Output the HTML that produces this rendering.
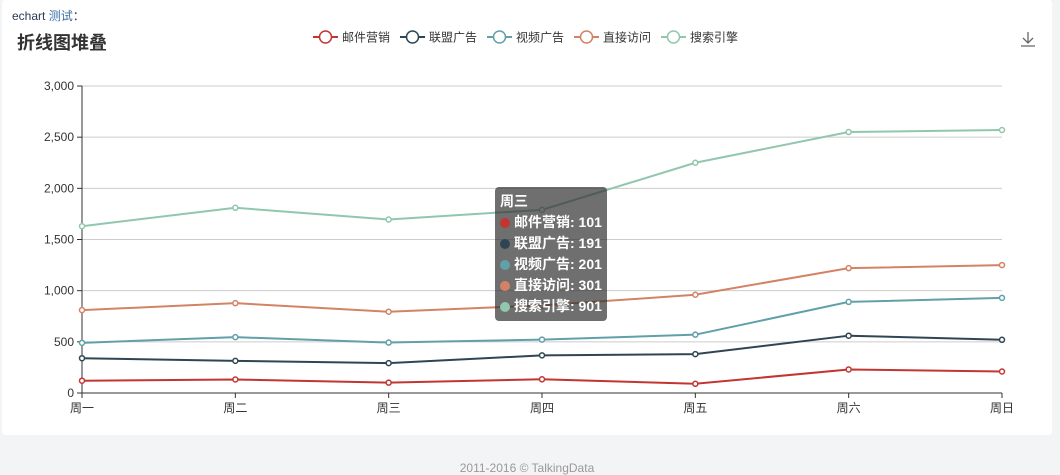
<!DOCTYPE html>
<html><head><meta charset="utf-8">
<style>
body{margin:0;width:1060px;height:474px;background:#f3f4f6;font-family:"Liberation Sans","Noto Sans CJK SC",sans-serif;position:relative;overflow:hidden}
#card{position:absolute;left:2px;top:0;width:1050px;height:435px;background:#fff;border-radius:3px}
#sub{position:absolute;left:12px;top:7px;font-size:12px;color:#2b3a55}
#sub span{color:#3a6ea5}
#title{position:absolute;left:17px;top:29px;font-size:18px;font-weight:bold;color:#333}
#foot{position:absolute;left:17px;width:1020px;top:461px;text-align:center;font-size:12px;color:#999}
#tip{position:absolute;left:495px;top:187px;width:112px;height:134px;background:rgba(50,50,50,0.7);border-radius:4px;color:#fff;font-size:14px;font-weight:bold;line-height:21px;padding:4px 5px;box-sizing:border-box;white-space:nowrap}
#tip i{display:inline-block;width:10px;height:10px;border-radius:5px;margin-right:4px;vertical-align:-1px}
</style></head><body>
<div id="card"></div>
<div id="sub">echart <span>测试</span>：</div>
<div id="title">折线图堆叠</div>
<svg id="chart" width="1060" height="474" style="position:absolute;left:0;top:0"></svg>
<div id="tip">
<div>周三</div>
<div><i style="background:#c23531"></i>邮件营销: 101</div>
<div><i style="background:#2f4554"></i>联盟广告: 191</div>
<div><i style="background:#61a0a8"></i>视频广告: 201</div>
<div><i style="background:#d48265"></i>直接访问: 301</div>
<div><i style="background:#91c7ae"></i>搜索引擎: 901</div>
</div>
<div id="foot">2011-2016 © TalkingData</div>
<script>
const categories=["周一","周二","周三","周四","周五","周六","周日"];
const seriesNames=["邮件营销","联盟广告","视频广告","直接访问","搜索引擎"];
const s1=[120,132,101,134,90,230,210];
const s2=[220,182,191,234,290,330,310];
const s3=[150,232,201,154,190,330,410];
const s4=[320,332,301,334,390,330,320];
const s5=[820,932,901,934,1290,1330,1320];
const yTicks=[0,500,1000,1500,2000,2500,3000];
const colors=["#c23531","#2f4554","#61a0a8","#d48265","#91c7ae"];
const NS="http://www.w3.org/2000/svg";
const svg=document.getElementById('chart');
const X0=82,X1=1002,Y0=393,Y1=86,YMAX=3000;
const x=i=>X0+i*(X1-X0)/(categories.length-1);
const y=v=>Y0-v/YMAX*(Y0-Y1);
function mk(t,a){const e=document.createElementNS(NS,t);for(const k in a)e.setAttribute(k,a[k]);svg.appendChild(e);return e;}
yTicks.forEach(v=>{
 const g=mk('line',{x1:X0,x2:X1,y1:y(v),y2:y(v),stroke:v===0?'#333':'#ccc'});
 
 
 mk('line',{x1:X0-5,x2:X0,y1:y(v),y2:y(v),stroke:'#333'});
 const t=mk('text',{x:X0-8,y:y(v)+4,'text-anchor':'end','font-size':12,fill:'#333'});
 t.textContent=v.toLocaleString('en-US');
 
 
});
mk('line',{x1:X0,x2:X0,y1:Y1,y2:Y0,stroke:'#333'});
categories.forEach((c,i)=>{
 mk('line',{x1:x(i),x2:x(i),y1:Y0,y2:Y0+5,stroke:'#333'});
 const t=mk('text',{x:x(i),y:Y0+19,'text-anchor':'middle','font-size':12,fill:'#333'});
 t.textContent=c;
 
 
});
const all=[s1,s2,s3,s4,s5];
let acc=categories.map(()=>0);
all.forEach((s,k)=>{
 acc=acc.map((a,i)=>a+s[i]);
 const pts=acc.map((v,i)=>x(i)+','+y(v)).join(' ');
 const pl=mk('polyline',{points:pts,fill:'none',stroke:colors[k],'stroke-width':2});
 
 
 acc.forEach((v,i)=>{
  const c=mk('circle',{cx:x(i),cy:y(v),r:2.5,fill:'#fff',stroke:colors[k],'stroke-width':1.5});
  
  
 });
});
let lx=313;
const widths=[87,87,87,87,87];
seriesNames.forEach((n,k)=>{
 mk('line',{x1:lx,x2:lx+25,y1:37,y2:37,stroke:colors[k],'stroke-width':2});
 mk('circle',{cx:lx+12.5,cy:37,r:6,fill:'#fff',stroke:colors[k],'stroke-width':1.5});
 const t=mk('text',{x:lx+29,y:41.5,'font-size':12,fill:'#333'});
 t.textContent=n;
 
 
 lx+=widths[k];
});
const dl=mk('path',{d:'M1028 32v11M1023 38l5 5 5-5M1021 46h14',fill:'none',stroke:'#666','stroke-width':1.3});


</script>
</body></html>
